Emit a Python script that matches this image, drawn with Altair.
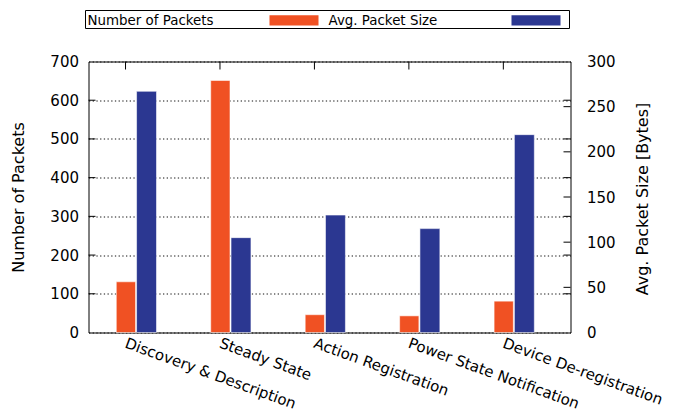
import json
import altair as alt
import pandas as pd

# ---- data ----
categories = ["Discovery & Description", "Steady State", "Action Registration",
              "Power State Notification", "Device De-registration"]
num_packets = [131, 651, 46, 43, 81]          # left axis
avg_packet_size = [267, 105, 130, 115, 219]   # right axis [Bytes]
series_names = ["Number of Packets", "Avg. Packet Size"]
left_ticks = [0, 100, 200, 300, 400, 500, 600, 700]
right_ticks = [0, 50, 100, 150, 200, 250, 300]

ORANGE = "#F05123"
BLUE = "#2B3791"
FONT = "DejaVu Sans"

df = pd.DataFrame({
    "idx": list(range(len(categories))),
    "category": categories,
    "packets": num_packets,
    "size": avg_packet_size,
})
legend_df = pd.DataFrame({"series": series_names, "color": [ORANGE, BLUE]})
lt_df = pd.DataFrame({"v": left_ticks[1:-1]})
rt_df = pd.DataFrame({"v": right_ticks[1:-1]})

W, H = 482, 271
xs = alt.Scale(domain=[-0.392, 4.711], nice=False, zero=False)
ly = alt.Scale(domain=[0, 700], nice=False)
ry = alt.Scale(domain=[0, 300], nice=False)

label_js = json.dumps(categories)
x_axis = alt.Axis(values=list(range(len(categories))), labelExpr=f"{label_js}[datum.value]",
                  labelAngle=20, labelAlign="left", labelBaseline="top", labelPadding=3,
                  labelOffset=2,
                  labelFontSize=15, labelColor="black", ticks=False, domain=False,
                  labelFlush=False, labelOverlap=False, labelLimit=0,
                  grid=False, title=None, labelFont=FONT)

left_axis = alt.Axis(values=left_ticks, grid=True, gridDash=[1.3, 2.4], gridColor="#111",
                     gridWidth=1, ticks=False, domain=False, labelPadding=10,
                     labelFontSize=15, labelColor="black", labelFont=FONT,
                     title="Number of Packets", titleFontSize=16, titleFontWeight="normal",
                     titleFont=FONT, titleColor="black", titleX=-70, titleY=135.5,
                     titleAngle=270, titleAlign="center", titleBaseline="middle")

right_axis = alt.Axis(values=right_ticks, orient="right", grid=False, ticks=False, domain=False,
                      labelPadding=16, labelFontSize=15, labelColor="black", labelFont=FONT,
                      labelAlign="left",
                      title="Avg. Packet Size [Bytes]", titleFontSize=16, titleFontWeight="normal",
                      titleFont=FONT, titleColor="black", titleX=72, titleY=137,
                      titleAngle=270, titleAlign="center", titleBaseline="middle")

orange_bars = alt.Chart(df).transform_calculate(
    x0="datum.idx - 0.098", x1="datum.idx + 0.106"
).mark_rect(color=ORANGE, stroke="white", strokeWidth=0.8, strokeOpacity=0.7).encode(
    x=alt.X("x0:Q", scale=xs, axis=x_axis),
    x2="x1:Q",
    y=alt.Y("packets:Q", scale=ly, axis=left_axis),
    y2=alt.datum(0),
)

blue_bars = alt.Chart(df).transform_calculate(
    x0="datum.idx + 0.117", x1="datum.idx + 0.328"
).mark_rect(color=BLUE, stroke="white", strokeWidth=0.8, strokeOpacity=0.7).encode(
    x=alt.X("x0:Q", scale=xs, axis=x_axis),
    x2="x1:Q",
    y=alt.Y("size:Q", scale=ry, axis=right_axis),
    y2=alt.datum(0),
)

# inward ticks
left_in_ticks = alt.Chart(lt_df).mark_rule(color="black", strokeWidth=1).encode(
    y=alt.Y("v:Q", scale=ly, axis=left_axis), x=alt.value(0), x2=alt.value(7))
left_mirror_ticks = alt.Chart(lt_df).mark_rule(color="black", strokeWidth=1).encode(
    y=alt.Y("v:Q", scale=ly, axis=left_axis), x=alt.value(W - 7), x2=alt.value(W))
right_in_ticks = alt.Chart(rt_df).mark_rule(color="black", strokeWidth=1).encode(
    y=alt.Y("v:Q", scale=ry, axis=right_axis), x=alt.value(W - 7), x2=alt.value(W))
top_ticks = alt.Chart(df).mark_rule(color="black", strokeWidth=1).encode(
    x=alt.X("idx:Q", scale=xs, axis=x_axis), y=alt.value(0), y2=alt.value(8))

# legend (key box above the plot)
key_box = alt.Chart(legend_df).transform_filter(alt.datum.series == series_names[0]).mark_rect(
    filled=False, stroke="black", strokeWidth=1).encode(
    x=alt.value(-3), x2=alt.value(481), y=alt.value(-51), y2=alt.value(-33))

def key_text(i, xpos):
    return alt.Chart(legend_df).transform_filter(alt.datum.series == series_names[i]).mark_text(
        align="left", baseline="alphabetic", fontSize=13.4, font=FONT, color="black").encode(
        text="series:N", x=alt.value(xpos), y=alt.value(-36.8))

def key_swatch(i, xa, xb, col):
    return alt.Chart(legend_df).transform_filter(alt.datum.series == series_names[i]).mark_rect(
        color=col).encode(x=alt.value(xa), x2=alt.value(xb), y=alt.value(-46.3), y2=alt.value(-36))

left_group = alt.layer(
    orange_bars, left_in_ticks, left_mirror_ticks, top_ticks,
    key_box, key_text(0, -1), key_swatch(0, 181, 230, ORANGE),
    key_text(1, 240), key_swatch(1, 423, 472, BLUE),
)
right_group = alt.layer(blue_bars, right_in_ticks)

chart = alt.layer(left_group, right_group).resolve_scale(y="independent").properties(
    width=W, height=H,
    autosize=alt.AutoSizeParams(type="none"),
    padding={"left": 80.5, "top": 53.5, "right": 96, "bottom": 83.5},
).configure(font=FONT).configure_view(stroke="black", strokeWidth=1)

chart.save("out.html", embed_options={"renderer": "svg", "actions": False})
